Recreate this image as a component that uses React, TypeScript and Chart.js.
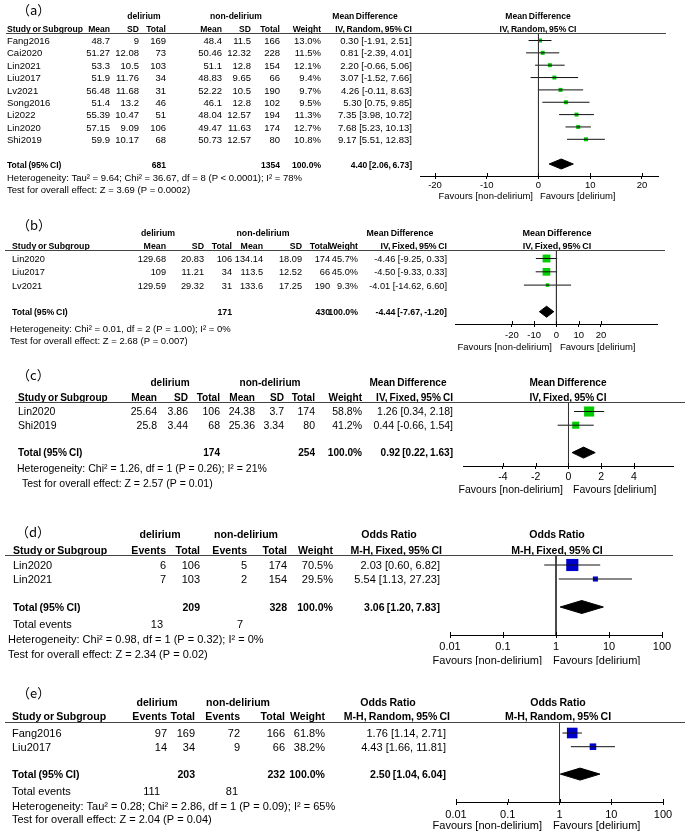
import React, { useEffect, useRef } from "react";
import { Chart, registerables } from "chart.js";
Chart.register(...registerables);

const FONT = "'Liberation Sans', Arial, sans-serif";
const CJK = "'Noto Sans CJK SC', 'Noto Sans', sans-serif";

// ---------------- (a) ----------------
const studiesA = ["Fang2016", "Cai2020", "Lin2021", "Liu2017", "Lv2021", "Song2016", "Li2022", "Lin2020", "Shi2019"];
const meanDelA = [48.7, 51.27, 53.3, 51.9, 56.48, 51.4, 55.39, 57.15, 59.9];
const sdDelA = [9, 12.08, 10.5, 11.76, 11.68, 13.2, 10.47, 9.09, 10.17];
const totalDelA = [169, 73, 103, 34, 31, 46, 51, 106, 68];
const meanNonA = [48.4, 50.46, 51.1, 48.83, 52.22, 46.1, 48.04, 49.47, 50.73];
const sdNonA = [11.5, 12.32, 12.8, 9.65, 10.5, 12.8, 12.57, 11.63, 12.57];
const totalNonA = [166, 228, 154, 66, 190, 102, 194, 174, 80];
const weightA = [13.0, 11.5, 12.1, 9.4, 9.7, 9.5, 11.3, 12.7, 10.8];
const effectA = [0.30, 0.81, 2.20, 3.07, 4.26, 5.30, 7.35, 7.68, 9.17];
const lowerA = [-1.91, -2.39, -0.66, -1.52, -0.11, 0.75, 3.98, 5.23, 5.51];
const upperA = [2.51, 4.01, 5.06, 7.66, 8.63, 9.85, 10.72, 10.13, 12.83];
const pooledA = [4.40, 2.06, 6.73];
const sumTotalsA = [681, 1354];
const ticksA = [-20, -10, 0, 10, 20];
const hetA = "Heterogeneity: Tau² = 9.64; Chi² = 36.67, df = 8 (P < 0.0001); I² = 78%";
const testA = "Test for overall effect: Z = 3.69 (P = 0.0002)";

// ---------------- (b) ----------------
const studiesB = ["Lin2020", "Liu2017", "Lv2021"];
const meanDelB = [129.68, 109, 129.59];
const sdDelB = [20.83, 11.21, 29.32];
const totalDelB = [106, 34, 31];
const meanNonB = [134.14, 113.5, 133.6];
const sdNonB = [18.09, 12.52, 17.25];
const totalNonB = [174, 66, 190];
const weightB = [45.7, 45.0, 9.3];
const effectB = [-4.46, -4.50, -4.01];
const lowerB = [-9.25, -9.33, -14.62];
const upperB = [0.33, 0.33, 6.60];
const pooledB = [-4.44, -7.67, -1.20];
const sumTotalsB = [171, 430];
const ticksB = [-20, -10, 0, 10, 20];
const hetB = "Heterogeneity: Chi² = 0.01, df = 2 (P = 1.00); I² = 0%";
const testB = "Test for overall effect: Z = 2.68 (P = 0.007)";

// ---------------- (c) ----------------
const studiesC = ["Lin2020", "Shi2019"];
const meanDelC = [25.64, 25.8];
const sdDelC = [3.86, 3.44];
const totalDelC = [106, 68];
const meanNonC = [24.38, 25.36];
const sdNonC = [3.7, 3.34];
const totalNonC = [174, 80];
const weightC = [58.8, 41.2];
const effectC = [1.26, 0.44];
const lowerC = [0.34, -0.66];
const upperC = [2.18, 1.54];
const pooledC = [0.92, 0.22, 1.63];
const sumTotalsC = [174, 254];
const ticksC = [-4, -2, 0, 2, 4];
const hetC = "Heterogeneity: Chi² = 1.26, df = 1 (P = 0.26); I² = 21%";
const testC = "Test for overall effect: Z = 2.57 (P = 0.01)";

// ---------------- (d) ----------------
const studiesD = ["Lin2020", "Lin2021"];
const eventsDelD = [6, 7];
const totalDelD = [106, 103];
const eventsNonD = [5, 2];
const totalNonD = [174, 154];
const weightD = [70.5, 29.5];
const effectD = [2.03, 5.54];
const lowerD = [0.60, 1.13];
const upperD = [6.82, 27.23];
const pooledD = [3.06, 1.20, 7.83];
const sumTotalsD = [209, 328];
const sumEventsD = [13, 7];
const ticksD = [0.01, 0.1, 1, 10, 100];
const tickLabelsD = ["0.01", "0.1", "1", "10", "100"];
const hetD = "Heterogeneity: Chi² = 0.98, df = 1 (P = 0.32); I² = 0%";
const testD = "Test for overall effect: Z = 2.34 (P = 0.02)";

// ---------------- (e) ----------------
const studiesE = ["Fang2016", "Liu2017"];
const eventsDelE = [97, 14];
const totalDelE = [169, 34];
const eventsNonE = [72, 9];
const totalNonE = [166, 66];
const weightE = [61.8, 38.2];
const effectE = [1.76, 4.43];
const lowerE = [1.14, 1.66];
const upperE = [2.71, 11.81];
const pooledE = [2.50, 1.04, 6.04];
const sumTotalsE = [203, 232];
const sumEventsE = [111, 81];
const ticksE = [0.01, 0.1, 1, 10, 100];
const tickLabelsE = ["0.01", "0.1", "1", "10", "100"];
const hetE = "Heterogeneity: Tau² = 0.28; Chi² = 2.86, df = 1 (P = 0.09); I² = 65%";
const testE = "Test for overall effect: Z = 2.04 (P = 0.04)";

const fmtW = (w: number) => `${w.toFixed(1)}%`;
const fmtCI = (e: number, l: number, h: number) => `${e.toFixed(2)} [${l.toFixed(2)}, ${h.toFixed(2)}]`;
const GREEN = "#00cc00";
const BLUE = "#0000cc";
const MD_HEAD = ["Mean", "SD", "Total", "Mean", "SD", "Total", "Weight"];
const OR_HEAD = ["Events", "Total", "Events", "Total", "Weight"];

function mdCells(m1: number[], s1: number[], n1: number[], m2: number[], s2: number[], n2: number[], w: number[]) {
  return m1.map((_, i) => [m1[i], s1[i], n1[i], m2[i], s2[i], n2[i]].map(String).concat(fmtW(w[i])));
}
function orCells(e1: number[], n1: number[], e2: number[], n2: number[], w: number[]) {
  return e1.map((_, i) => [e1[i], n1[i], e2[i], n2[i]].map(String).concat(fmtW(w[i])));
}

const panels: any[] = [
  {
    tag: "（a）", top: 0, height: 202, fs: 9.5, tsx: 1, bsx: 0.9, tagX: 17, tagY: 10,
    groupY: 16, groups: [["delirium", 144], ["non-delirium", 236]], effName: "Mean Difference", effHdrX: 365, plotHdrX: 538,
    method: "IV, Random, 95% CI", headY: 29, headers: MD_HEAD, cols: [110, 139, 166, 222, 251, 280, 321], ciRight: 412, ciHeadRight: 412,
    studyX: 7, lineY: 33, lineX: [6, 666],
    studies: studiesA, cells: mdCells(meanDelA, sdDelA, totalDelA, meanNonA, sdNonA, totalNonA, weightA),
    est: effectA, lo: lowerA, hi: upperA, weight: weightA, pooled: pooledA,
    totalCells: [[String(sumTotalsA[0]), 2], [String(sumTotalsA[1]), 5], ["100.0%", 6]],
    r0: 40.5, s: 12.35, axisY: 176, axL: 420, axR: 658, xType: "linear", xMin: -22.9, xMax: 23.1,
    ticks: ticksA, tickLabels: ticksA.map(String), ref: 0, tickLabelY: 185,
    favY: 196, favL: 533, favR: 540, hetX: 7, hetY: 178, het: hetA, testX: 7, testY: 190, test: testA,
    color: GREEN, minSide: 4, diamondHalf: 5,
  },
  {
    tag: "（b）", top: 202, height: 151, fs: 9.5, tsx: 0.97, bsx: 0.95, tagX: 17, tagY: 225,
    groupY: 233, groups: [["delirium", 158], ["non-delirium", 263]], effName: "Mean Difference", effHdrX: 400, plotHdrX: 557,
    method: "IV, Fixed, 95% CI", headY: 246, headers: MD_HEAD, cols: [166, 204, 232, 263, 302, 330, 358], ciRight: 447, ciHeadRight: 447,
    studyX: 12, lineY: 250, lineX: [5, 665],
    studies: studiesB, cells: mdCells(meanDelB, sdDelB, totalDelB, meanNonB, sdNonB, totalNonB, weightB),
    est: effectB, lo: lowerB, hi: upperB, weight: weightB, pooled: pooledB,
    totalCells: [[String(sumTotalsB[0]), 2], [String(sumTotalsB[1]), 5], ["100.0%", 6]],
    r0: 258.5, s: 13.3, axisY: 324, axL: 455, axR: 657, xType: "linear", xMin: -45.6, xMax: 45.2,
    ticks: ticksB, tickLabels: ticksB.map(String), ref: 0, tickLabelY: 335,
    favY: 347, favL: 552, favR: 560, hetX: 10, hetY: 329, het: hetB, testX: 10, testY: 341, test: testB,
    color: GREEN, minSide: 3.5, diamondHalf: 5.5,
  },
  {
    tag: "（c）", top: 353, height: 143, fs: 10.5, tsx: 1, bsx: 0.96, tagX: 17, tagY: 375,
    groupY: 383, groups: [["delirium", 170], ["non-delirium", 270]], effName: "Mean Difference", effHdrX: 408, plotHdrX: 568,
    method: "IV, Fixed, 95% CI", headY: 398, headers: MD_HEAD, cols: [157, 188, 220, 255, 284, 315, 362], ciRight: 453, ciHeadRight: 453,
    studyX: 18, lineY: 402, lineX: [15, 685],
    studies: studiesC, cells: mdCells(meanDelC, sdDelC, totalDelC, meanNonC, sdNonC, totalNonC, weightC),
    est: effectC, lo: lowerC, hi: upperC, weight: weightC, pooled: pooledC,
    totalCells: [[String(sumTotalsC[0]), 2], [String(sumTotalsC[1]), 5], ["100.0%", 6]],
    r0: 411.5, s: 13.7, axisY: 466, axL: 463, axR: 673, xType: "linear", xMin: -6.44, xMax: 6.38,
    ticks: ticksC, tickLabels: ticksC.map(String), ref: 0, tickLabelY: 477,
    favY: 490, favL: 563, favR: 573, hetX: 17, hetY: 469, het: hetC, testX: 22, testY: 484, test: testC,
    color: GREEN, minSide: 4, diamondHalf: 5.5,
  },
  {
    tag: "（d）", top: 496, height: 169, fs: 11, tsx: 1, bsx: 0.96, tagX: 16, tagY: 532,
    groupY: 535, groups: [["delirium", 160], ["non-delirium", 246]], effName: "Odds Ratio", effHdrX: 389, plotHdrX: 557,
    method: "M-H, Fixed, 95% CI", headY: 551, headers: OR_HEAD, cols: [166, 200, 247, 287, 333], ciRight: 440, ciHeadRight: 442,
    studyX: 13, lineY: 555, lineX: [5, 673],
    studies: studiesD, cells: orCells(eventsDelD, totalDelD, eventsNonD, totalNonD, weightD),
    est: effectD, lo: lowerD, hi: upperD, weight: weightD, pooled: pooledD,
    totalCells: [[String(sumTotalsD[0]), 1], [String(sumTotalsD[1]), 3], ["100.0%", 4]],
    totalEventsY: 625, totalEvents: [[String(sumEventsD[0]), 163], [String(sumEventsD[1]), 243]],
    r0: 565, s: 14, axisY: 635, axL: 450, axR: 662, xType: "logarithmic", xMin: 0.01, xMax: 100,
    ticks: ticksD, tickLabels: tickLabelsD, ref: 1, tickLabelY: 647,
    favY: 661, favL: 542, favR: 553, hetX: 8, hetY: 640, het: hetD, testX: 8, testY: 655, test: testD,
    color: BLUE, minSide: 4, diamondHalf: 6.5,
  },
  {
    tag: "（e）", top: 665, height: 168, fs: 11, tsx: 1, bsx: 0.96, tagX: 17, tagY: 693,
    groupY: 703, groups: [["delirium", 157], ["non-delirium", 238]], effName: "Odds Ratio", effHdrX: 388, plotHdrX: 558,
    method: "M-H, Random, 95% CI", headY: 717, headers: OR_HEAD, cols: [167, 195, 240, 285, 325], ciRight: 446, ciHeadRight: 450,
    studyX: 12, lineY: 722, lineX: [5, 685],
    studies: studiesE, cells: orCells(eventsDelE, totalDelE, eventsNonE, totalNonE, weightE),
    est: effectE, lo: lowerE, hi: upperE, weight: weightE, pooled: pooledE,
    totalCells: [[String(sumTotalsE[0]), 1], [String(sumTotalsE[1]), 3], ["100.0%", 4]],
    totalEventsY: 792, totalEvents: [[String(sumEventsE[0]), 160], [String(sumEventsE[1]), 238]],
    r0: 733, s: 13.7, axisY: 802, axL: 456, axR: 663, xType: "logarithmic", xMin: 0.01, xMax: 100,
    ticks: ticksE, tickLabels: tickLabelsE, ref: 1, tickLabelY: 815,
    favY: 826, favL: 542, favR: 553, hetX: 12, hetY: 807, het: hetE, testX: 12, testY: 820, test: testE,
    color: BLUE, minSide: 4, diamondHalf: 6,
  },
];

const W = 685;
const SCALE_H = 24;
const TICK_LEN = 3;

function makePlugin(p: any) {
  return {
    id: "forestTable",
    afterDraw(chart: any) {
      const ctx = chart.ctx;
      const ys = chart.scales.y;
      const xs = chart.scales.x;
      const off = p.top;
      const f = (bold: boolean) => `${bold ? "bold " : ""}${p.fs}px ${FONT}`;
      const txt = (t: string, x: number, y: number, align: CanvasTextAlign, bold = false, table = true) => {
        ctx.font = f(bold);
        ctx.textAlign = align;
        try { (ctx as any).wordSpacing = bold ? "-0.8px" : "0px"; } catch (e) { /* ignore */ }
        const sx = (bold ? p.bsx : 1) * (table ? p.tsx : 1);
        ctx.save();
        ctx.translate(x, y);
        ctx.scale(sx, 1);
        ctx.fillText(t, 0, 0);
        ctx.restore();
      };
      ctx.save();
      ctx.fillStyle = "#000";
      ctx.textBaseline = "middle";
      // panel tag
      ctx.font = `13px ${CJK}`;
      ctx.textAlign = "left";
      ctx.fillText(p.tag, p.tagX, p.tagY - off);
      // group headers
      for (const [t, x] of p.groups) txt(t, x, p.groupY - off, "center", true);
      txt(p.effName, p.effHdrX, p.groupY - off, "center", true);
      txt(p.effName, p.plotHdrX, p.groupY - off, "center", true, false);
      // column headers
      txt("Study or Subgroup", p.studyX, p.headY - off, "left", true);
      p.headers.forEach((h: string, i: number) => txt(h, p.cols[i], p.headY - off, "right", true));
      txt(p.method, p.ciHeadRight, p.headY - off, "right", true);
      txt(p.method, p.plotHdrX, p.headY - off, "center", true, false);
      // header rule
      ctx.strokeStyle = "#444";
      ctx.lineWidth = 1;
      ctx.beginPath();
      const ly = Math.round(p.lineY - off) + 0.5;
      ctx.moveTo(p.lineX[0], ly);
      ctx.lineTo(p.lineX[1], ly);
      ctx.stroke();
      // study rows
      p.studies.forEach((name: string, i: number) => {
        const y = ys.getPixelForValue(i) + 1;
        txt(name, p.studyX, y, "left");
        p.cells[i].forEach((c: string, j: number) => txt(c, p.cols[j], y, "right"));
        txt(fmtCI(p.est[i], p.lo[i], p.hi[i]), p.ciRight, y, "right");
      });
      // total row
      const ty = ys.getPixelForValue(p.studies.length + 1) + 1;
      txt("Total (95% CI)", p.studyX, ty, "left", true);
      for (const [t, ci] of p.totalCells) txt(t, p.cols[ci], ty, "right", true);
      txt(fmtCI(p.pooled[0], p.pooled[1], p.pooled[2]), p.ciRight, ty, "right", true);
      if (p.totalEvents) {
        txt("Total events", p.studyX, p.totalEventsY - off, "left");
        for (const [t, x] of p.totalEvents) txt(t, x, p.totalEventsY - off, "right");
      }
      txt(p.het, p.hetX, p.hetY - off, "left", false, false);
      txt(p.test, p.testX, p.testY - off, "left", false, false);
      // favours
      txt("Favours [non-delirium]", p.favL, p.favY - off, "right", false, false);
      txt("Favours [delirium]", p.favR, p.favY - off, "left", false, false);
      // upper half of tick marks
      ctx.strokeStyle = "#000";
      ctx.beginPath();
      const ay = xs.top;
      for (const t of p.ticks) {
        const px = Math.round(xs.getPixelForValue(t)) + 0.5;
        ctx.moveTo(px, ay - 3);
        ctx.lineTo(px, ay);
      }
      ctx.stroke();
      ctx.restore();
    },
  };
}

function buildConfig(p: any) {
  const n = p.est.length;
  const tIdx = n + 1;
  const localLine = p.lineY - p.top;
  const localAxis = p.axisY - p.top;
  const yMin = -(p.r0 - p.lineY) / p.s;
  const yMax = (p.axisY - p.r0) / p.s;
  const padBottom = Math.max(0, p.height - localAxis - SCALE_H);
  const h = p.diamondHalf / p.s;
  const side = (w: number) => Math.max(p.minSide, 0.172 * w);
  const datasets: any[] = [];
  datasets.push({
    data: [{ x: p.ref, y: yMin }, { x: p.ref, y: yMax }],
    showLine: true, pointRadius: 0, borderColor: "#333", borderWidth: 1,
  });
  for (let i = 0; i < n; i++) {
    datasets.push({
      data: [{ x: p.lo[i], y: i }, { x: p.hi[i], y: i }],
      showLine: true, pointRadius: 0, borderColor: "#111", borderWidth: 1,
    });
  }
  datasets.push({
    data: p.est.map((e: number, i: number) => ({ x: e, y: i })),
    showLine: false, pointStyle: "rect",
    pointRadius: p.weight.map((w: number) => side(w) / Math.SQRT2),
    backgroundColor: p.color, borderColor: p.color, borderWidth: 0,
  });
  const [pe, pl, ph] = p.pooled;
  datasets.push({
    data: [
      { x: pl, y: tIdx }, { x: pe, y: tIdx - h }, { x: ph, y: tIdx }, { x: pe, y: tIdx + h }, { x: pl, y: tIdx },
    ],
    showLine: true, fill: "shape", pointRadius: 0,
    backgroundColor: "#000", borderColor: "#000", borderWidth: 1,
  });
  const tickPad = p.tickLabelY - p.axisY - TICK_LEN - 0.6 * p.fs;
  return {
    type: "scatter",
    data: { datasets },
    plugins: [makePlugin(p)],
    options: {
      responsive: false,
      animation: false,
      events: [],
      layout: { padding: { left: p.axL, right: W - p.axR, top: localLine, bottom: padBottom } },
      plugins: { legend: { display: false }, tooltip: { enabled: false } },
      scales: {
        x: {
          type: p.xType,
          position: "bottom",
          min: p.xMin,
          max: p.xMax,
          bounds: "data",
          afterBuildTicks: (s: any) => {
            s.ticks = p.ticks.map((v: number) => ({ value: v }));
          },
          afterFit: (s: any) => {
            s.height = SCALE_H;
          },
          ticks: {
            autoSkip: false,
            maxRotation: 0,
            minRotation: 0,
            padding: tickPad,
            color: "#000",
            font: { family: FONT, size: p.fs },
            callback: (_v: any, i: number) => p.tickLabels[i],
          },
          grid: { display: true, drawOnChartArea: false, drawTicks: true, tickLength: TICK_LEN, color: "#000", lineWidth: 1 },
          border: { display: true, color: "#000", width: 1 },
        },
        y: { type: "linear", reverse: true, min: yMin, max: yMax, display: false },
      },
    },
  };
}

export default function App() {
  const refs = useRef<(HTMLCanvasElement | null)[]>([]);
  useEffect(() => {
    const charts = panels.map((p, i) => new Chart(refs.current[i] as HTMLCanvasElement, buildConfig(p) as any));
    return () => charts.forEach((c) => c.destroy());
  }, []);
  return (
    <div style={{ position: "absolute", left: 0, top: 0, width: W, height: 833, background: "#fff", overflow: "hidden" }}>
      {panels.map((p, i) => (
        <canvas
          key={i}
          ref={(el) => { refs.current[i] = el; }}
          width={W}
          height={p.height}
          style={{ position: "absolute", left: 0, top: p.top, width: W, height: p.height, display: "block" }}
        />
      ))}
    </div>
  );
}
